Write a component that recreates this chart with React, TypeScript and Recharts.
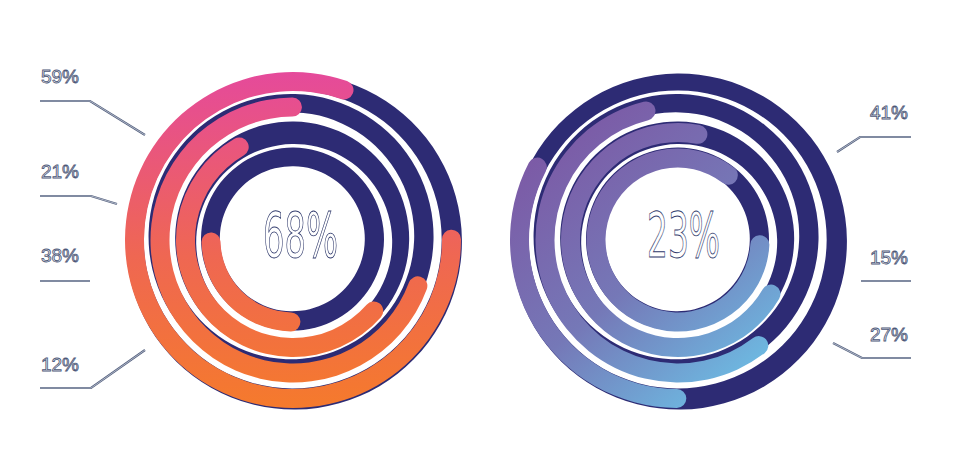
import { RadialBarChart, RadialBar, PolarAngleAxis } from 'recharts'

// rings listed inner -> outer; offset = where the coloured arc starts (% of turn, clockwise from 30deg)
const rings = ['r1', 'r2', 'r3', 'r4']
const leftOffset = [31.9, 18.4, 12.8, 7.3]
const leftValue = [27.9, 58, 71.6, 82.2]
const rightOffset = [7.4, 15.3, 21.8, 32.5]
const rightValue = [88.3, 72.4, 58.8, 34.4]

const leftCenter = '68%'
const rightCenter = '23%'
const leftLabels = ['59%', '21%', '38%', '12%']
const rightLabels = ['41%', '15%', '27%']

const NAVY = '#2d2b74'
const SIZE = 360

const toRows = (offsets: number[], values: number[]) =>
    rings.map((name, i) => ({ name, offset: offsets[i], value: values[i] }))

interface RingsProps {
    data: { name: string; offset: number; value: number }[]
    gradId: string
    stops: { o: number; c: string }[]
    grad: { x1: number; y1: number; x2: number; y2: number }
}

function Rings({ data, gradId, stops, grad }: RingsProps) {
    return (
        <RadialBarChart
            width={SIZE}
            height={SIZE}
            data={data}
            innerRadius={69}
            outerRadius={171}
            barCategoryGap={3.5}
            startAngle={30}
            endAngle={-330}
            margin={{ top: 0, right: 0, bottom: 0, left: 0 }}
        >
            <defs>
                <linearGradient id={gradId} gradientUnits="userSpaceOnUse" {...grad}>
                    {stops.map((s) => (
                        <stop key={s.o} offset={s.o} stopColor={s.c} />
                    ))}
                </linearGradient>
            </defs>
            <PolarAngleAxis type="number" domain={[0, 100]} tick={false} axisLine={false} />
            <RadialBar
                dataKey="offset"
                stackId="a"
                fill="transparent"
                background={{ fill: NAVY }}
                isAnimationActive={false}
            />
            <RadialBar
                dataKey="value"
                stackId="a"
                fill={`url(#${gradId})`}
                cornerRadius={10}
                isAnimationActive={false}
            />
        </RadialBarChart>
    )
}

const textStyle = {
    fontFamily: '"Liberation Sans", Arial, sans-serif',
    fill: '#f4f5f9',
    stroke: '#4d5878',
    strokeWidth: 0.8,
}

function Leader({ points }: { points: string }) {
    return (
        <>
            <polyline points={points} fill="none" stroke="#55617f" strokeWidth={2.2} />
            <polyline points={points} fill="none" stroke="#d3d8e3" strokeWidth={0.7} />
        </>
    )
}

export default function App() {
    return (
        <div style={{ position: 'absolute', left: 0, top: 0, width: 958, height: 468, background: '#fff' }}>
            <div style={{ position: 'absolute', left: 113, top: 60 }}>
                <Rings
                    data={toRows(leftOffset, leftValue)}
                    gradId="warm"
                    grad={{ x1: 180, y1: 12, x2: 180, y2: 348 }}
                    stops={[
                        { o: 0, c: '#e54a9b' },
                        { o: 0.55, c: '#ef6752' },
                        { o: 1, c: '#f57a2c' },
                    ]}
                />
            </div>
            <div style={{ position: 'absolute', left: 498, top: 60 }}>
                <Rings
                    data={toRows(rightOffset, rightValue)}
                    gradId="cool"
                    grad={{ x1: 60, y1: 40, x2: 300, y2: 330 }}
                    stops={[
                        { o: 0, c: '#7d55a3' },
                        { o: 0.5, c: '#7578b7' },
                        { o: 1, c: '#6bcdee' },
                    ]}
                />
            </div>
            <svg width={958} height={468} style={{ position: 'absolute', left: 0, top: 0, pointerEvents: 'none' }}>
                <Leader points="40,101 90,101 145,135" />
                <Leader points="40,196 91,196 117,204" />
                <Leader points="40,281 90,281" />
                <Leader points="40,388 91,388 145,350" />
                <Leader points="837,152 860,137 911,137" />
                <Leader points="861,281 911,281" />
                <Leader points="833,343 862,358 911,358" />

                {leftLabels.map((t, i) => (
                    <text key={t} x={41} y={[83, 178, 262, 371][i]} fontSize={18} textLength={38} lengthAdjust="spacingAndGlyphs" style={textStyle}>
                        {t}
                    </text>
                ))}
                {rightLabels.map((t, i) => (
                    <text key={t} x={870} y={[119, 264, 341][i]} fontSize={18} textLength={38} lengthAdjust="spacingAndGlyphs" style={textStyle}>
                        {t}
                    </text>
                ))}

                <text x={263} y={257} fontSize={62} textLength={75} lengthAdjust="spacingAndGlyphs"
                    style={{ ...textStyle, fontFamily: '"Liberation Sans Narrow", "DejaVu Sans Condensed", sans-serif', fill: '#fff', stroke: '#303a6c', strokeWidth: 0.9 }}>
                    {leftCenter}
                </text>
                <text x={647} y={257} fontSize={62} textLength={73} lengthAdjust="spacingAndGlyphs"
                    style={{ ...textStyle, fontFamily: '"Liberation Sans Narrow", "DejaVu Sans Condensed", sans-serif', fill: '#fff', stroke: '#303a6c', strokeWidth: 0.9 }}>
                    {rightCenter}
                </text>
            </svg>
        </div>
    )
}
